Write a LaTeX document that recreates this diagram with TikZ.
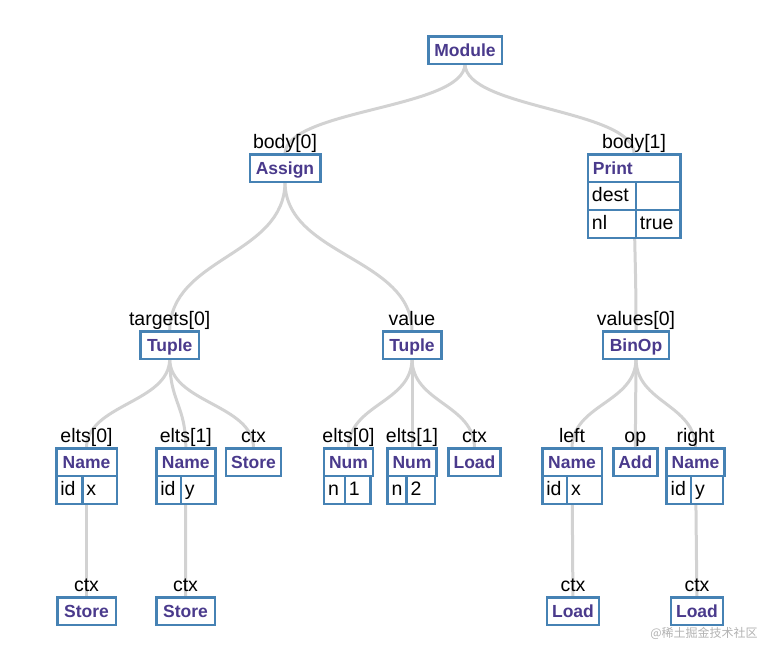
\documentclass[tikz,border=0pt]{standalone}
\usepackage{fontspec}
\setmainfont{Liberation Sans}
\newfontfamily\cjkfont{Noto Sans CJK SC}
\usepackage{tikz}
\usetikzlibrary{backgrounds}
\definecolor{boxblue}{RGB}{70,130,180}
\definecolor{astpurple}{RGB}{74,58,140}
\definecolor{linkgray}{RGB}{210,210,210}
\tikzset{
    astbox/.style={draw=boxblue, line width=2.5pt, fill=white, inner xsep=5pt, inner ysep=0pt, outer sep=0pt,
        minimum height=27.5pt, text height=14pt, text depth=1.5pt, font=\fontsize{17.5}{20}\selectfont\bfseries, text=astpurple},
    cellbox/.style={draw=boxblue, line width=2.5pt, fill=white, inner xsep=4pt, inner ysep=0pt, outer sep=0pt,
        minimum height=28pt, text height=13.5pt, text depth=2pt, font=\fontsize{19.5}{21}\selectfont, anchor=north west, align=left},
    fieldlabel/.style={font=\fontsize{19.5}{21}\selectfont, inner sep=0pt, anchor=base},
    link/.style={draw=linkgray, line width=3pt}
}

\begin{document}
\begin{tikzpicture}[x=1pt, y=-1pt]
            \useasboundingbox (0,0) rectangle (775,649);

            % ---------- Root ----------
            \node[astbox, minimum width=73.5pt] (mod) at (465,50) {Module};

            % ---------- Row 1: body ----------
            \node[fieldlabel] (lb-asg) at (285,148) {body[0]};
            \node[astbox, minimum width=70.5pt] (asg) at (285,168) {Assign};

            \node[fieldlabel] (lb-prt) at (634,148) {body[1]};
            \node[astbox, text width=82.5pt, align=left] (prt) at (634.2,168) {Print};
            \node[cellbox, text width=40pt] (prt-k1) at (prt.south west) {dest};
            \node[cellbox, text width=36.5pt] (prt-v1) at (prt-k1.north east) {};
            \node[cellbox, text width=40pt] (prt-k2) at (prt-k1.south west) {nl};
            \node[cellbox, text width=36.5pt] (prt-v2) at (prt-k2.north east) {true};

            % ---------- Row 2: Tuple / Tuple / BinOp ----------
            \node[fieldlabel] (lb-tup1) at (169.7,325) {targets[0]};
            \node[astbox, minimum width=58.5pt] (tup1) at (169.7,345) {Tuple};

            \node[fieldlabel] (lb-tup2) at (412,325) {value};
            \node[astbox, minimum width=58.5pt] (tup2) at (412,345) {Tuple};

            \node[fieldlabel] (lb-binop) at (636,325) {values[0]};
            \node[astbox, minimum width=66pt] (binop) at (636,345) {BinOp};

            % ---------- Row 3: children of the tuples and of BinOp ----------
            \node[fieldlabel] (lb-nm1) at (86.5,442) {elts[0]};
            \node[astbox, minimum width=60.5pt] (nm1) at (86.5,462) {Name};
            \node[cellbox, text width=18pt] (nm1-k) at (nm1.south west) {id};
            \node[cellbox, text width=26.5pt] (nm1-v) at (nm1-k.north east) {x};

            \node[fieldlabel] (lb-nm2) at (185.8,442) {elts[1]};
            \node[astbox, minimum width=59pt] (nm2) at (185.8,462) {Name};
            \node[cellbox, text width=16.5pt] (nm2-k) at (nm2.south west) {id};
            \node[cellbox, text width=26.5pt] (nm2-v) at (nm2-k.north east) {y};

            \node[fieldlabel] (lb-st1) at (253.5,442) {ctx};
            \node[astbox, minimum width=52.5pt] (st1) at (253.5,462) {Store};

            \node[fieldlabel] (lb-num1) at (348.5,442) {elts[0]};
            \node[astbox, minimum width=46.5pt] (num1) at (348.5,462) {Num};
            \node[cellbox, text width=12.75pt] (num1-k) at (num1.south west) {n};
            \node[cellbox, text width=17.75pt] (num1-v) at (num1-k.north east) {1};

            \node[fieldlabel] (lb-num2) at (412,442) {elts[1]};
            \node[astbox, minimum width=47.5pt] (num2) at (412,462) {Num};
            \node[cellbox, text width=11pt] (num2-k) at (num2.south west) {n};
            \node[cellbox, text width=20.5pt] (num2-v) at (num2-k.north east) {2};

            \node[fieldlabel] (lb-ld1) at (474.5,442) {ctx};
            \node[astbox, minimum width=50.5pt] (ld1) at (474.5,462) {Load};

            \node[fieldlabel] (lb-nm3) at (572,442) {left};
            \node[astbox, minimum width=59.5pt] (nm3) at (572,462) {Name};
            \node[cellbox, text width=16.75pt] (nm3-k) at (nm3.south west) {id};
            \node[cellbox, text width=26.75pt] (nm3-v) at (nm3-k.north east) {x};

            \node[fieldlabel] (lb-add) at (635.3,442) {op};
            \node[astbox, minimum width=43pt] (add) at (635.3,462) {Add};

            \node[fieldlabel] (lb-nm4) at (695.5,442) {right};
            \node[astbox, minimum width=56.5pt] (nm4) at (695.5,462) {Name};
            \node[cellbox, text width=16.5pt] (nm4-k) at (nm4.south west) {id};
            \node[cellbox, text width=24pt] (nm4-v) at (nm4-k.north east) {y};

            % ---------- Row 4: ctx of the names ----------
            \node[fieldlabel] (lb-st2) at (86.5,591) {ctx};
            \node[astbox, minimum width=58.5pt] (st2) at (86.5,611) {Store};

            \node[fieldlabel] (lb-st3) at (185.5,591) {ctx};
            \node[astbox, minimum width=58.5pt] (st3) at (185.5,611) {Store};

            \node[fieldlabel] (lb-ld2) at (573,591) {ctx};
            \node[astbox, minimum width=49.5pt] (ld2) at (573,611) {Load};

            \node[fieldlabel] (lb-ld3) at (697,591) {ctx};
            \node[astbox, minimum width=49.5pt] (ld3) at (697,611) {Load};

            \node[font=\cjkfont\fontsize{12}{14}\selectfont, text=gray!60] (mark) at (704,633) {@稀土掘金技术社区};

            % ---------- Links (behind the boxes) ----------
            \begin{scope}[on background layer]
                \draw[link] (mod) .. controls +(0,59) and +(0,-59) .. (asg);
                \draw[link] (mod) .. controls +(0,59) and +(0,-59) .. (prt);

                \draw[link] (asg) .. controls +(0,88) and +(0,-88) .. (tup1);
                \draw[link] (asg) .. controls +(0,88) and +(0,-88) .. (tup2);
                \draw[link] (prt) .. controls +(0,88) and +(0,-88) .. (binop);

                \draw[link] (tup1) .. controls +(0,58) and +(0,-58) .. (nm1);
                \draw[link] (tup1) .. controls +(0,58) and +(0,-58) .. (nm2);
                \draw[link] (tup1) .. controls +(0,58) and +(0,-58) .. (st1);
                \draw[link] (tup2) .. controls +(0,58) and +(0,-58) .. (num1);
                \draw[link] (tup2) .. controls +(0,58) and +(0,-58) .. (num2);
                \draw[link] (tup2) .. controls +(0,58) and +(0,-58) .. (ld1);
                \draw[link] (binop) .. controls +(0,58) and +(0,-58) .. (nm3);
                \draw[link] (binop) .. controls +(0,58) and +(0,-58) .. (add);
                \draw[link] (binop) .. controls +(0,58) and +(0,-58) .. (nm4);

                \draw[link] (nm1) -- (st2);
                \draw[link] (nm2) -- (st3);
                \draw[link] (nm3) -- (ld2);
                \draw[link] (nm4) -- (ld3);
            \end{scope}
        \end{tikzpicture}
\end{document}
